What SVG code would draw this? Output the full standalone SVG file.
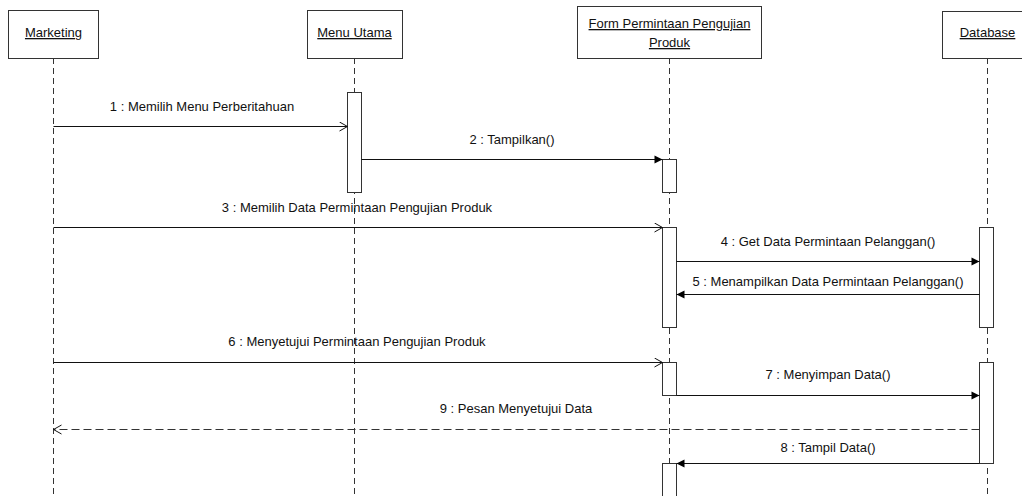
<svg xmlns="http://www.w3.org/2000/svg" width="1022" height="496" viewBox="0 0 1022 496">
  <style>
    .box { fill: #ffffff; stroke: #333333; stroke-width: 1; }
    .life { stroke: #333333; stroke-width: 1; stroke-dasharray: 6 4; fill: none; }
    .act { fill: #ffffff; stroke: #333333; stroke-width: 1; }
    .msg { stroke: #111111; stroke-width: 1; fill: none; }
    .ret { stroke: #333333; stroke-width: 1; stroke-dasharray: 8 4; fill: none; }
    .head { font-family: "Liberation Sans", Arial, sans-serif; font-size: 13px; fill: #111111; text-anchor: middle; text-decoration: underline; }
    .lbl { font-family: "Liberation Sans", Arial, sans-serif; font-size: 13px; fill: #111111; text-anchor: middle; }
  </style>
  <defs>
    <marker id="filled" markerUnits="userSpaceOnUse" markerWidth="10" markerHeight="10" refX="9" refY="4.5" orient="auto">
      <path d="M1,0.5 L9,4.5 L1,8.5 z" fill="#000000"/>
    </marker>
    <marker id="open" markerUnits="userSpaceOnUse" markerWidth="10" markerHeight="12" refX="9" refY="5" orient="auto">
      <path d="M1,0.5 L9,5 L1,9.5" fill="none" stroke="#111111" stroke-width="1"/>
    </marker>
  </defs>

  <rect width="1022" height="496" fill="#ffffff"/>

  <!-- lifelines -->
  <g id="lifelines">
    <line class="life" x1="53.5" y1="58" x2="53.5" y2="496"/>
    <line class="life" x1="354.5" y1="58" x2="354.5" y2="496"/>
    <line class="life" x1="669.5" y1="58" x2="669.5" y2="496"/>
    <line class="life" x1="987.5" y1="58" x2="987.5" y2="496"/>
  </g>

  <g id="marketing">
    <rect class="box" x="8.5" y="10.5" width="90" height="48"/>
    <text class="head" x="53.5" y="37">Marketing</text>
  </g>

  <g id="menu-utama">
    <rect class="box" x="307.5" y="10.5" width="95" height="48"/>
    <text class="head" x="354.5" y="37">Menu Utama</text>
    <rect class="act" x="347.5" y="92.5" width="14" height="100"/>
  </g>

  <g id="form-permintaan">
    <rect class="box" x="577.5" y="6.5" width="184" height="52"/>
    <text class="head" x="669.5" y="28">Form Permintaan Pengujian</text>
    <text class="head" x="669.5" y="47">Produk</text>
    <rect class="act" x="662.5" y="159.5" width="14" height="33"/>
    <rect class="act" x="662.5" y="227.5" width="14" height="100"/>
    <rect class="act" x="662.5" y="362.5" width="14" height="33"/>
    <rect class="act" x="662.5" y="463.5" width="14" height="40"/>
  </g>

  <g id="database">
    <rect class="box" x="942.5" y="11.5" width="90" height="47"/>
    <text class="head" x="987.5" y="37">Database</text>
    <rect class="act" x="979.5" y="227.5" width="14" height="100"/>
    <rect class="act" x="979.5" y="362.5" width="14" height="101"/>
  </g>

  <!-- messages -->
  <g id="connectors">
    <line class="msg" x1="53.5" y1="126.5" x2="347.5" y2="126.5" marker-end="url(#open)"/>
    <text class="lbl" x="202" y="111">1 : Memilih Menu Perberitahuan</text>

    <line class="msg" x1="361.5" y1="159.5" x2="662.5" y2="159.5" marker-end="url(#filled)"/>
    <text class="lbl" x="512" y="144">2 : Tampilkan()</text>

    <line class="msg" x1="53.5" y1="227.5" x2="662.5" y2="227.5" marker-end="url(#open)"/>
    <text class="lbl" x="357" y="212">3 : Memilih Data Permintaan Pengujian Produk</text>

    <line class="msg" x1="676.5" y1="261.5" x2="979.5" y2="261.5" marker-end="url(#filled)"/>
    <text class="lbl" x="828" y="246">4 : Get Data Permintaan Pelanggan()</text>

    <line class="msg" x1="979.5" y1="294.5" x2="676.5" y2="294.5" marker-end="url(#filled)"/>
    <text class="lbl" x="828" y="286">5 : Menampilkan Data Permintaan Pelanggan()</text>

    <line class="msg" x1="53.5" y1="362.5" x2="662.5" y2="362.5" marker-end="url(#open)"/>
    <text class="lbl" x="357" y="346">6 : Menyetujui Permintaan Pengujian Produk</text>

    <line class="msg" x1="676.5" y1="395.5" x2="979.5" y2="395.5" marker-end="url(#filled)"/>
    <text class="lbl" x="828" y="379">7 : Menyimpan Data()</text>

    <line class="ret" x1="979.5" y1="429.5" x2="53.5" y2="429.5" marker-end="url(#open)"/>
    <text class="lbl" x="516" y="413">9 : Pesan Menyetujui Data</text>

    <line class="msg" x1="979.5" y1="463.5" x2="676.5" y2="463.5" marker-end="url(#filled)"/>
    <text class="lbl" x="828" y="452">8 : Tampil Data()</text>
  </g>
</svg>
